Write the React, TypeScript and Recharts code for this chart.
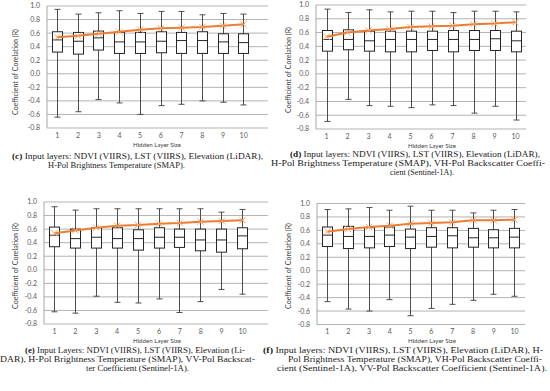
import { ComposedChart, Bar, Line, XAxis, YAxis, CartesianGrid } from 'recharts';

// ── Data ──────────────────────────────────────────────────────────────────────

const CATEGORIES = ['1', '2', '3', '4', '5', '6', '7', '8', '9', '10'];
const Y_TICKS = [-0.8, -0.6, -0.4, -0.2, 0, 0.2, 0.4, 0.6, 0.8, 1.0];

// (c)
const C_MAX = [0.95, 0.88, 0.9, 0.93, 0.89, 0.92, 0.92, 0.87, 0.89, 0.88];
const C_Q3 = [0.62, 0.61, 0.63, 0.61, 0.61, 0.62, 0.61, 0.62, 0.59, 0.59];
const C_MED = [0.5, 0.48, 0.53, 0.47, 0.47, 0.48, 0.49, 0.49, 0.47, 0.46];
const C_Q1 = [0.32, 0.29, 0.35, 0.3, 0.3, 0.31, 0.3, 0.3, 0.3, 0.3];
const C_MIN = [-0.64, -0.56, -0.38, -0.43, -0.6, -0.47, -0.45, -0.4, -0.42, -0.46];
const C_LINE = [0.54, 0.56, 0.59, 0.62, 0.65, 0.67, 0.68, 0.69, 0.71, 0.73];

// (d)
const D_MAX = [0.94, 0.89, 0.93, 0.9, 0.91, 0.91, 0.89, 0.91, 0.91, 0.9];
const D_Q3 = [0.63, 0.64, 0.62, 0.62, 0.62, 0.62, 0.63, 0.63, 0.63, 0.62];
const D_MED = [0.5, 0.5, 0.48, 0.5, 0.5, 0.5, 0.5, 0.5, 0.51, 0.48];
const D_Q1 = [0.33, 0.35, 0.33, 0.32, 0.32, 0.34, 0.32, 0.34, 0.34, 0.32];
const D_MIN = [-0.69, -0.37, -0.46, -0.47, -0.49, -0.45, -0.46, -0.57, -0.47, -0.67];
const D_LINE = [0.54, 0.6, 0.63, 0.65, 0.68, 0.69, 0.7, 0.72, 0.73, 0.75];

// (e)
const E_MAX = [0.93, 0.88, 0.9, 0.9, 0.9, 0.9, 0.9, 0.9, 0.85, 0.89];
const E_Q3 = [0.63, 0.6, 0.62, 0.62, 0.59, 0.62, 0.6, 0.6, 0.6, 0.62];
const E_MED = [0.51, 0.46, 0.48, 0.46, 0.46, 0.48, 0.48, 0.44, 0.44, 0.5];
const E_Q1 = [0.34, 0.32, 0.32, 0.32, 0.29, 0.32, 0.33, 0.28, 0.26, 0.31];
const E_MIN = [-0.62, -0.64, -0.39, -0.48, -0.49, -0.43, -0.63, -0.47, -0.29, -0.36];
const E_LINE = [0.54, 0.58, 0.62, 0.65, 0.66, 0.68, 0.69, 0.71, 0.72, 0.73];

// (f)
const F_MAX = [0.91, 0.92, 0.94, 0.9, 0.96, 0.9, 0.9, 0.86, 0.9, 0.91];
const F_Q3 = [0.65, 0.66, 0.64, 0.65, 0.62, 0.64, 0.64, 0.63, 0.61, 0.63];
const F_MED = [0.53, 0.51, 0.51, 0.53, 0.5, 0.51, 0.52, 0.49, 0.49, 0.5];
const F_Q1 = [0.36, 0.33, 0.34, 0.36, 0.33, 0.35, 0.34, 0.35, 0.34, 0.34];
const F_MIN = [-0.46, -0.57, -0.6, -0.43, -0.67, -0.56, -0.5, -0.44, -0.35, -0.38];
const F_LINE = [0.58, 0.62, 0.65, 0.67, 0.7, 0.71, 0.72, 0.75, 0.75, 0.76];

const CAPTION_C = [
  ['(c)', ' Input layers: NDVI (VIIRS), LST (VIIRS), Elevation (LiDAR),'],
  ['', 'H-Pol Brightness Temperature (SMAP).'],
];
const CAPTION_D = [
  ['(d)', ' Input layers: NDVI (VIIRS), LST (VIIRS), Elevation (LiDAR),'],
  ['', 'H-Pol Brightness Temperature (SMAP), VH-Pol Backscatter Coeffi-'],
  ['', 'cient (Sentinel-1A).'],
];
const CAPTION_E = [
  ['(e)', ' Input Layers: NDVI (VIIRS), LST (VIIRS), Elevation (Li-'],
  ['', 'DAR), H-Pol Brightness Temperature (SMAP), VV-Pol Backscat-'],
  ['', 'ter Coefficient (Sentinel-1A).'],
];
const CAPTION_F = [
  ['(f)', ' Input layers: NDVI (VIIRS), LST (VIIRS), Elevation (LiDAR), H-'],
  ['', 'Pol Brightness Temperature (SMAP), VH-Pol Backscatter Coeffi-'],
  ['', 'cient (Sentinel-1A), VV-Pol Backscatter Coefficient (Sentinel-1A).'],
];

const Y_TITLE = 'Coefficient of Corelation (R)';
const X_TITLE = 'Hidden Layer Size';

function buildRows(max: number[], q3: number[], med: number[], q1: number[], min: number[], line: number[]) {
  return CATEGORIES.map((cat, i) => ({
    cat,
    max: max[i],
    q3: q3[i],
    median: med[i],
    q1: q1[i],
    min: min[i],
    line: line[i],
  }));
}

// ── Panel layout (pixel geometry of each plot area) ──────────────────────────

const PANELS = [
  { key: 'c', rows: buildRows(C_MAX, C_Q3, C_MED, C_Q1, C_MIN, C_LINE), ox: 0, oy: 0, w: 275, h: 150, l: 47, r: 268, t: 6, b: 128, padR: 14 },
  { key: 'd', rows: buildRows(D_MAX, D_Q3, D_MED, D_Q1, D_MIN, D_LINE), ox: 275, oy: 0, w: 275, h: 150, l: 316, r: 526, t: 5, b: 129, padR: 0 },
  { key: 'e', rows: buildRows(E_MAX, E_Q3, E_MED, E_Q1, E_MIN, E_LINE), ox: 0, oy: 195, w: 275, h: 145, l: 44, r: 268, t: 202, b: 324, padR: 15 },
  { key: 'f', rows: buildRows(F_MAX, F_Q3, F_MED, F_Q1, F_MIN, F_LINE), ox: 275, oy: 195, w: 275, h: 145, l: 317, r: 525, t: 203.5, b: 324.5, padR: 0 },
];

// ── Box-and-whisker shape (range bar min→max) ────────────────────────────────

function BoxShape(props: any) {
  const { x, y, width, height, payload } = props;
  if (x == null || !payload) return null;
  const top = Math.min(y, y + height);
  const h = Math.abs(height);
  const { min, max, q1, q3, median } = payload;
  const py = (v: number) => top + ((max - v) / (max - min)) * h;
  const cx = Math.round(x + width / 2) + 0.5;
  return (
    <g>
      <line x1={cx} x2={cx} y1={py(max)} y2={py(min)} stroke="#4d4d4d" strokeWidth={1} />
      <line x1={cx - 3} x2={cx + 3} y1={py(max)} y2={py(max)} stroke="#4d4d4d" strokeWidth={1} />
      <line x1={cx - 3} x2={cx + 3} y1={py(min)} y2={py(min)} stroke="#4d4d4d" strokeWidth={1} />
      <rect x={cx - 5} y={py(q3)} width={10} height={py(q1) - py(q3)} fill="#ffffff" stroke="#262626" strokeWidth={1} />
      <line x1={cx - 5} x2={cx + 5} y1={py(median)} y2={py(median)} stroke="#262626" strokeWidth={1} />
    </g>
  );
}

function CrossDot(props: any) {
  const { cx, cy } = props;
  if (cx == null || cy == null) return null;
  const s = 3.2;
  return (
    <g stroke="#f5a66e" strokeWidth={1}>
      <line x1={cx - s} y1={cy - s} x2={cx + s} y2={cy + s} />
      <line x1={cx - s} y1={cy + s} x2={cx + s} y2={cy - s} />
    </g>
  );
}

const TICK_STYLE = { fontSize: 7, fill: '#595959', fontFamily: 'Lato, "Liberation Sans", sans-serif' };

function Panel({ p }: { p: (typeof PANELS)[number] }) {
  const xAxisH = p.oy + p.h - p.b;
  return (
    <div style={{ position: 'absolute', left: p.ox, top: p.oy, width: p.w, height: p.h }}>
      <ComposedChart
        width={p.w}
        height={p.h}
        data={p.rows}
        margin={{ top: p.t - p.oy, right: p.ox + p.w - p.r, bottom: 0, left: 0 }}
      >
        <CartesianGrid vertical={false} stroke="#b3b3b3" strokeWidth={1} />
        <XAxis
          dataKey="cat"
          type="category"
          interval={0}
          height={xAxisH}
          padding={{ left: 0, right: p.padR }}
          axisLine={false}
          tickLine={false}
          tickSize={0}
          tickMargin={5}
          tick={TICK_STYLE}
        />
        <YAxis
          type="number"
          domain={[-0.8, 1.0]}
          ticks={Y_TICKS}
          interval={0}
          width={p.l - p.ox}
          axisLine={{ stroke: '#a6a6a6' }}
          tickLine={false}
          tickSize={0}
          tickMargin={7}
          tick={TICK_STYLE}
          tickFormatter={(v: number) => v.toFixed(1)}
        />
        <Bar
          dataKey={(d: any) => [d.min, d.max]}
          barSize={10}
          shape={<BoxShape />}
          isAnimationActive={false}
        />
        <Line
          dataKey="line"
          stroke="#ed7d31"
          strokeWidth={2}
          dot={<CrossDot />}
          activeDot={false}
          isAnimationActive={false}
        />
      </ComposedChart>
    </div>
  );
}

// ── Overlay texts (axis titles, captions) ────────────────────────────────────

const SANS = 'Lato, "Liberation Sans", sans-serif';
const SERIF = '"Liberation Serif", "DejaVu Serif", serif';

function YTitle({ x, y }: { x: number; y: number }) {
  return (
    <text
      x={x}
      y={y}
      transform={`rotate(-90 ${x} ${y})`}
      textAnchor="middle"
      dominantBaseline="central"
      fontSize={6.6}
      fill="#404040"
      fontFamily={SANS}
      textLength={86}
      lengthAdjust="spacingAndGlyphs"
    >
      {Y_TITLE}
    </text>
  );
}

function XTitle({ cx, y }: { cx: number; y: number }) {
  return (
    <text x={cx} y={y} textAnchor="middle" dominantBaseline="central" fontSize={6.2} fill="#404040" fontFamily={SANS} textLength={48} lengthAdjust="spacingAndGlyphs">
      {X_TITLE}
    </text>
  );
}

// line geometry: [x start, x end, center y]
function Caption({ lines, geo }: { lines: string[][]; geo: number[][] }) {
  return (
    <g>
      {lines.map(([bold, rest], i) => {
        const [x0, x1, cy] = geo[i];
        return (
          <text
            key={i}
            x={x0}
            y={cy + 3}
            fontSize={8.4}
            fill="#1a1a1a"
            fontFamily={SERIF}
            textLength={x1 - x0}
            lengthAdjust="spacingAndGlyphs"
          >
            {bold ? <tspan fontWeight="bold">{bold}</tspan> : null}
            {rest}
          </text>
        );
      })}
    </g>
  );
}

export default function App() {
  return (
    <div style={{ position: 'absolute', left: 0, top: 0, width: 550, height: 391, background: '#ffffff', overflow: 'hidden' }}>
      {PANELS.map((p) => (
        <Panel key={p.key} p={p} />
      ))}
      <svg width={550} height={391} style={{ position: 'absolute', left: 0, top: 0, pointerEvents: 'none' }}>
        <YTitle x={15} y={72} />
        <YTitle x={288} y={70} />
        <YTitle x={15} y={266} />
        <YTitle x={288} y={266} />
        <XTitle cx={157} y={144.5} />
        <XTitle cx={432} y={145.5} />
        <XTitle cx={157} y={340.5} />
        <XTitle cx={432} y={340.5} />
        <Caption lines={CAPTION_C} geo={[[12, 263, 155.5], [48, 185, 164.5]]} />
        <Caption lines={CAPTION_D} geo={[[290, 540, 153.5], [271, 545, 162.5], [390, 454, 172]]} />
        <Caption lines={CAPTION_E} geo={[[25, 245, 349.5], [0, 255, 358.5], [86, 189, 367.5]]} />
        <Caption lines={CAPTION_F} geo={[[263, 543, 349.5], [288, 542, 358.5], [277, 547, 367.5]]} />
      </svg>
    </div>
  );
}
